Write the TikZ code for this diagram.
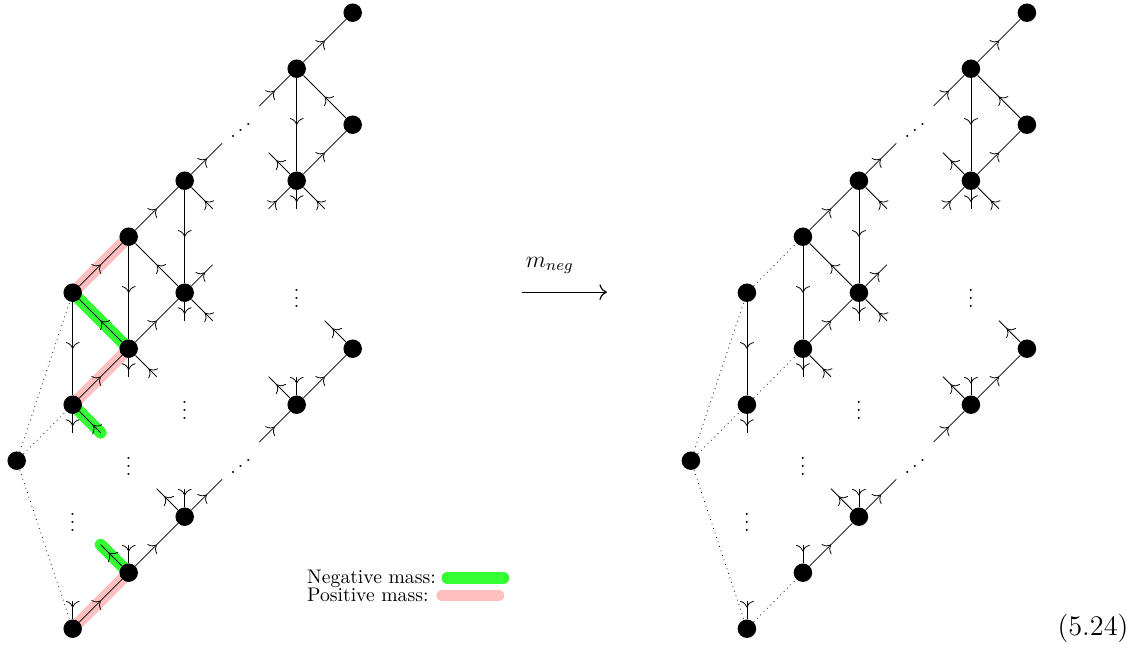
\documentclass[tikz,border=0pt]{standalone}
\usepackage{amsmath,amssymb}
\usetikzlibrary{arrows.meta,decorations.markings,backgrounds,calc}
\tikzset{
  vtx/.style={circle,fill=black,inner sep=0pt,minimum size=3.3mm},
  gap/.style={inner sep=0pt},
  fwd/.style={postaction={decorate},decoration={markings,mark=at position 0.5 with {\arrow{To[scale=1.35]}}}},
  stubout/.style={postaction={decorate},decoration={markings,mark=at position #1 with {\arrow{To[scale=1.35]}}}},
  stubout/.default=0.63,
  stubin/.style={postaction={decorate},decoration={markings,mark=at position #1 with {\arrowreversed{To[scale=1.35]}}}},
  stubin/.default=0.63,
  ghost/.style={dotted},
  negmass/.style={line width=6pt,line cap=round,green!80},
  posmass/.style={line width=6pt,line cap=round,red!25},
  maparrow/.style={-{To[scale=1.3]},semithick}
}

\begin{document}
\begin{tikzpicture}
    \useasboundingbox (-0.298,-3.363) rectangle (20.113,8.227);

    \node[vtx] (l00) at (0,0) {};
    \node[vtx] (l13) at (1,3) {};
    \node[vtx] (l11) at (1,1) {};
    \node[vtx] (l1n3) at (1,-3) {};
    \node[vtx] (l24) at (2,4) {};
    \node[vtx] (l22) at (2,2) {};
    \node[vtx] (l2n2) at (2,-2) {};
    \node[vtx] (l35) at (3,5) {};
    \node[vtx] (l33) at (3,3) {};
    \node[vtx] (l3n1) at (3,-1) {};
    \node[vtx] (l57) at (5,7) {};
    \node[vtx] (l55) at (5,5) {};
    \node[vtx] (l51) at (5,1) {};
    \node[vtx] (l68) at (6,8) {};
    \node[vtx] (l66) at (6,6) {};
    \node[vtx] (l62) at (6,2) {};
    \node[gap] (lv1) at (1,-1) {$\vdots$};
    \node[gap] (lv2) at (2,0) {$\vdots$};
    \node[gap] (lv3) at (3,1) {$\vdots$};
    \node[gap] (lv4) at (5,3) {$\vdots$};
    \node[gap] (ld1) at (4,6) {\reflectbox{$\ddots$}};
    \node[gap] (ld2) at (4,0) {\reflectbox{$\ddots$}};

    \draw[ghost] (l00) -- (l13);
    \draw[ghost] (l00) -- (l11);
    \draw[ghost] (l00) -- (l1n3);
    \draw[fwd] (l13) -- (l24);
    \draw[fwd] (l22) -- (l13);
    \draw[fwd] (l13) -- (l11);
    \draw[fwd] (l11) -- (l22);
    \draw[fwd] (l24) -- (l22);
    \draw[fwd] (l24) -- (l35);
    \draw[fwd] (l33) -- (l24);
    \draw[fwd] (l22) -- (l33);
    \draw[fwd] (l35) -- (l33);
    \draw[fwd] (l57) -- (l68);
    \draw[fwd] (l57) -- (l55);
    \draw[fwd] (l66) -- (l57);
    \draw[fwd] (l55) -- (l66);
    \draw[fwd] (l51) -- (l62);
    \draw[fwd] (l2n2) -- (l3n1);
    \draw[fwd] (l1n3) -- (l2n2);

    \draw[stubout] (l11) -- ++(0,-0.5) coordinate (l11s);
    \draw[stubin] (l11) -- ++(0.5,-0.5) coordinate (l11se);
    \draw[stubout] (l22) -- ++(0,-0.5) coordinate (l22s);
    \draw[stubin] (l22) -- ++(0.5,-0.5) coordinate (l22se);
    \draw[stubout] (l33) -- ++(0.5,0.5) coordinate (l33ne);
    \draw[stubout] (l33) -- ++(0,-0.5) coordinate (l33s);
    \draw[stubin] (l33) -- ++(0.5,-0.5) coordinate (l33se);
    \draw[stubout=0.5] (l35) -- ++(0.667,0.667) coordinate (l35ne);
    \draw[stubin] (l35) -- ++(0.5,-0.5) coordinate (l35se);
    \draw[stubin=0.5] (l57) -- ++(-0.667,-0.667) coordinate (l57sw);
    \draw[stubout] (l55) -- ++(-0.5,0.5) coordinate (l55nw);
    \draw[stubin] (l55) -- ++(-0.5,-0.5) coordinate (l55sw);
    \draw[stubout] (l55) -- ++(0,-0.5) coordinate (l55s);
    \draw[stubin] (l55) -- ++(0.5,-0.5) coordinate (l55se);
    \draw[stubout] (l62) -- ++(-0.5,0.5) coordinate (l62nw);
    \draw[stubout] (l51) -- ++(-0.5,0.5) coordinate (l51nw);
    \draw[stubin] (l51) -- ++(0,0.5) coordinate (l51n);
    \draw[stubin=0.5] (l51) -- ++(-0.667,-0.667) coordinate (l51sw);
    \draw[stubout] (l3n1) -- ++(-0.5,0.5) coordinate (l3n1nw);
    \draw[stubin] (l3n1) -- ++(0,0.5) coordinate (l3n1n);
    \draw[stubout=0.5] (l3n1) -- ++(0.667,0.667) coordinate (l3n1ne);
    \draw[stubout] (l2n2) -- ++(-0.5,0.5) coordinate (l2n2nw);
    \draw[stubin] (l2n2) -- ++(0,0.5) coordinate (l2n2n);
    \draw[stubin] (l1n3) -- ++(0,0.5) coordinate (l1n3n);

    \begin{pgfonlayer}{background}
      \draw[posmass] (l13.center) -- (l24.center);
      \draw[negmass] (l13.center) -- (l22.center);
      \draw[posmass] (l11.center) -- (l22.center);
      \draw[negmass] (l11.center) -- (l11se);
      \draw[negmass] (l2n2.center) -- (l2n2nw);
      \draw[posmass] (l1n3.center) -- (l2n2.center);
    \end{pgfonlayer}

    \node[anchor=base west,inner sep=0pt] (negtext) at (5.18,-2.184) {Negative mass:};
    \node[anchor=base west,inner sep=0pt] (postext) at (5.18,-2.518) {Positive mass:};
    \draw[negmass] ($(negtext.base east)+(0.2,0.09)$) -- ++(1,0);
    \draw[posmass] ($(postext.base east)+(0.24,0.11)$) -- ++(1,0);

    \coordinate (mapfrom) at (9.02,3.01);
    \coordinate (mapto) at (10.54,3.01);
    \draw[maparrow] (mapfrom) -- (mapto);
    \node (maplabel) at (9.52,3.49) {\large$m_{neg}$};

    \begin{scope}[xshift=12.04cm]
      \node[vtx] (r00) at (0,0) {};
      \node[vtx] (r13) at (1,3) {};
      \node[vtx] (r11) at (1,1) {};
      \node[vtx] (r1n3) at (1,-3) {};
      \node[vtx] (r24) at (2,4) {};
      \node[vtx] (r22) at (2,2) {};
      \node[vtx] (r2n2) at (2,-2) {};
      \node[vtx] (r35) at (3,5) {};
      \node[vtx] (r33) at (3,3) {};
      \node[vtx] (r3n1) at (3,-1) {};
      \node[vtx] (r57) at (5,7) {};
      \node[vtx] (r55) at (5,5) {};
      \node[vtx] (r51) at (5,1) {};
      \node[vtx] (r68) at (6,8) {};
      \node[vtx] (r66) at (6,6) {};
      \node[vtx] (r62) at (6,2) {};
      \node[gap] (rv1) at (1,-1) {$\vdots$};
      \node[gap] (rv2) at (2,0) {$\vdots$};
      \node[gap] (rv3) at (3,1) {$\vdots$};
      \node[gap] (rv4) at (5,3) {$\vdots$};
      \node[gap] (rd1) at (4,6) {\reflectbox{$\ddots$}};
      \node[gap] (rd2) at (4,0) {\reflectbox{$\ddots$}};

      \draw[ghost] (r00) -- (r13);
      \draw[ghost] (r00) -- (r11);
      \draw[ghost] (r00) -- (r1n3);
      \draw[ghost] (r13) -- (r24);
      \draw[ghost] (r11) -- (r22);
      \draw[ghost] (r1n3) -- (r2n2);
      \draw[fwd] (r13) -- (r11);
      \draw[fwd] (r24) -- (r22);
      \draw[fwd] (r24) -- (r35);
      \draw[fwd] (r33) -- (r24);
      \draw[fwd] (r22) -- (r33);
      \draw[fwd] (r35) -- (r33);
      \draw[fwd] (r57) -- (r68);
      \draw[fwd] (r57) -- (r55);
      \draw[fwd] (r66) -- (r57);
      \draw[fwd] (r55) -- (r66);
      \draw[fwd] (r51) -- (r62);
      \draw[fwd] (r2n2) -- (r3n1);

      \draw[stubout] (r11) -- ++(0,-0.5) coordinate (r11s);
      \draw[stubout] (r22) -- ++(0,-0.5) coordinate (r22s);
      \draw[stubin] (r22) -- ++(0.5,-0.5) coordinate (r22se);
      \draw[stubout] (r33) -- ++(0.5,0.5) coordinate (r33ne);
      \draw[stubout] (r33) -- ++(0,-0.5) coordinate (r33s);
      \draw[stubin] (r33) -- ++(0.5,-0.5) coordinate (r33se);
      \draw[stubout=0.5] (r35) -- ++(0.667,0.667) coordinate (r35ne);
      \draw[stubin] (r35) -- ++(0.5,-0.5) coordinate (r35se);
      \draw[stubin=0.5] (r57) -- ++(-0.667,-0.667) coordinate (r57sw);
      \draw[stubout] (r55) -- ++(-0.5,0.5) coordinate (r55nw);
      \draw[stubin] (r55) -- ++(-0.5,-0.5) coordinate (r55sw);
      \draw[stubout] (r55) -- ++(0,-0.5) coordinate (r55s);
      \draw[stubin] (r55) -- ++(0.5,-0.5) coordinate (r55se);
      \draw[stubout] (r62) -- ++(-0.5,0.5) coordinate (r62nw);
      \draw[stubout] (r51) -- ++(-0.5,0.5) coordinate (r51nw);
      \draw[stubin] (r51) -- ++(0,0.5) coordinate (r51n);
      \draw[stubin=0.5] (r51) -- ++(-0.667,-0.667) coordinate (r51sw);
      \draw[stubout] (r3n1) -- ++(-0.5,0.5) coordinate (r3n1nw);
      \draw[stubin] (r3n1) -- ++(0,0.5) coordinate (r3n1n);
      \draw[stubout=0.5] (r3n1) -- ++(0.667,0.667) coordinate (r3n1ne);
      \draw[stubin] (r2n2) -- ++(0,0.5) coordinate (r2n2n);
      \draw[stubin] (r1n3) -- ++(0,0.5) coordinate (r1n3n);
    \end{scope}

    \node (eqno) at (19.22,-2.99) {\Large (5.24)};
  \end{tikzpicture}
\end{document}
